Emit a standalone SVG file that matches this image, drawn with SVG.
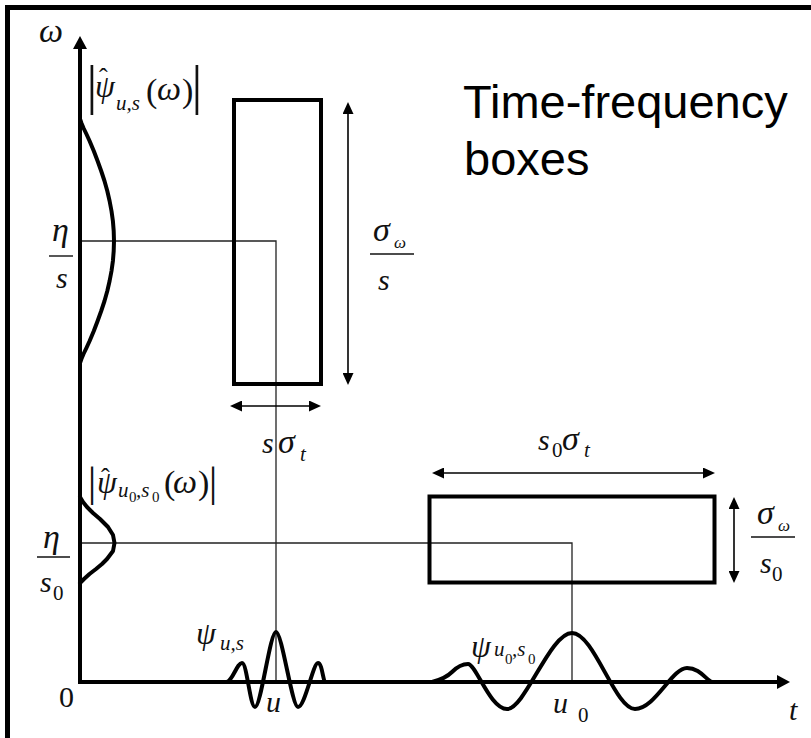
<svg xmlns="http://www.w3.org/2000/svg" width="811" height="738" viewBox="0 0 811 738">
<style>
  .m { font-family: "Liberation Serif", "Times New Roman", serif; font-style: italic; font-size: 30px; fill: #111; }
  .g { font-size: 34px; }
  .p { font-size: 32px; }
  .r { font-style: normal; }
  .sub { font-size: 21px; }
  .sg { font-size: 17px; }
  .ss { font-size: 15px; font-style: normal; }
  .thick { fill: none; stroke: #000; stroke-width: 4; stroke-linejoin: round; stroke-linecap: round; }
  .box { fill: none; stroke: #000; stroke-width: 4; }
  .thin { fill: none; stroke: #222; stroke-width: 1.3; }
  .arr { fill: none; stroke: #000; stroke-width: 1.6; marker-start: url(#ah); marker-end: url(#ah); }
  .fbar { stroke: #111; stroke-width: 1.4; }
  .title { font-family: "Liberation Sans", Arial, sans-serif; font-size: 47px; fill: #000; }
</style>
<defs>
  <marker id="ah" markerUnits="userSpaceOnUse" markerWidth="12" markerHeight="11" refX="0" refY="5.5" orient="auto-start-reverse">
    <path d="M0,0 L12,5.5 L0,11 z" fill="#000"/>
  </marker>
  <marker id="axh" markerUnits="userSpaceOnUse" markerWidth="13" markerHeight="14" refX="0" refY="7" orient="auto-start-reverse">
    <path d="M0,0 L13,7 L0,14 z" fill="#000"/>
  </marker>
</defs>
<rect width="811" height="738" fill="#fff"/>

<g id="frame">
  <path d="M7.5,738 V7.5 H811" fill="none" stroke="#000" stroke-width="5"/>
</g>

<g id="connectors">
  <polyline class="thin" points="80,241 276,241 276,682"/>
  <polyline class="thin" points="80,543 572,543 572,682"/>
  <line class="arr" x1="348" y1="114" x2="348" y2="373"/>
  <line class="arr" x1="242" y1="406" x2="309" y2="406"/>
  <line class="arr" x1="444" y1="473" x2="703" y2="473"/>
  <line class="arr" x1="734" y1="509" x2="734" y2="571"/>
</g>

<g id="axes">
  <path d="M80,49 L80,682 L777,682" fill="none" stroke="#000" stroke-width="4" stroke-linejoin="miter" marker-start="url(#axh)" marker-end="url(#axh)"/>
</g>

<g id="box-us">
  <rect class="box" x="234" y="100" width="87" height="284"/>
</g>
<g id="box-u0s0">
  <rect class="box" x="429.5" y="496.5" width="285" height="86"/>
</g>

<g id="spectrum-us">
  <polyline class="thick" points="80,119 81.4,123 83.5,128 86.4,134 89.6,141 93.8,151 97.6,161 101.2,171 104.5,181 107.3,191 109.6,201 111.5,211 112.9,221 113.7,231 114,241 113.7,251 112.9,261 111.5,271 109.6,281 107.3,291 104.5,301 101.2,311 97.6,321 93.8,331 89.6,341 86.4,348 83.5,354 81.4,359 80,363"/>
</g>
<g id="spectrum-u0s0">
  <polyline class="thick" points="80,497 83,502 87,507 93,513 100,519 108,527 113,535 114.5,543 113,551 107,559 102,564 96,569 89.5,574 84,579 80,583"/>
</g>

<g id="wavelet-us">
  <path class="thick" d="M227,682 C233,680 237,663 242,663 C247,663 250,707 255,707 C261,707 270,632 276,632 C282,632 292,707 298,707 C305,707 313,663 318,663 C322,663 323,680 325,682"/>
</g>
<g id="wavelet-u0s0">
  <path class="thick" d="M432,682 C440,680 447,677 452,672 C458,666 463,664 468,664 C476,664 490,709 507,709 C525,709 550,633 572,633 C594,633 615,709 635,709 C655,709 672,668 687,668 C700,668 706,680 712,682"/>
</g>

<g id="labels">
  <text class="m g" x="39" y="42">ω</text>

  <text class="m"><tspan class="r" font-size="54" x="86.6" y="103">|</tspan><tspan class="p" x="95" y="97">ψ</tspan><tspan class="r" font-size="26" x="99" y="86">ˆ</tspan><tspan class="sub" x="116" y="110">u,s</tspan><tspan class="r" font-size="34" x="146" y="102">(</tspan><tspan class="g" x="157" y="100">ω</tspan><tspan class="r" font-size="34" x="182" y="102">)</tspan><tspan class="r" font-size="54" x="191.6" y="103">|</tspan></text>

  <text class="m g" x="52" y="241">η</text>
  <line class="fbar" x1="49" y1="256" x2="73" y2="256"/>
  <text class="m" x="56" y="288">s</text>

  <text class="m"><tspan class="g" x="373" y="241">σ</tspan><tspan class="sg" x="394" y="248">ω</tspan></text>
  <line class="fbar" x1="370" y1="254" x2="414" y2="254"/>
  <text class="m" x="378" y="290">s</text>

  <text class="m"><tspan x="262" y="453">s</tspan><tspan class="g" x="278" y="453">σ</tspan><tspan class="sub" x="300" y="461">t</tspan></text>

  <text class="m"><tspan class="r" font-size="43" x="87.7" y="496">|</tspan><tspan class="p" x="97" y="493">ψ</tspan><tspan class="r" font-size="26" x="101" y="486">ˆ</tspan><tspan class="sub" x="118" y="497">u</tspan><tspan class="ss" x="129" y="502">0</tspan><tspan class="sub" x="136" y="497">,s</tspan><tspan class="ss" x="152" y="502">0</tspan><tspan class="r" font-size="34" x="164" y="494">(</tspan><tspan class="g" x="173" y="493">ω</tspan><tspan class="r" font-size="34" x="198" y="494">)</tspan><tspan class="r" font-size="43" x="208.7" y="496">|</tspan></text>

  <text class="m g" x="43" y="548">η</text>
  <line class="fbar" x1="37" y1="557" x2="70" y2="557"/>
  <text class="m"><tspan x="40" y="592">s</tspan><tspan class="sub r" x="53" y="600">0</tspan></text>

  <text class="m"><tspan x="538" y="450">s</tspan><tspan class="sub r" x="552" y="457">0</tspan><tspan class="g" x="562" y="450">σ</tspan><tspan class="sub" x="584" y="457">t</tspan></text>

  <text class="m"><tspan class="g" x="757" y="524">σ</tspan><tspan class="sg" x="778" y="531">ω</tspan></text>
  <line class="fbar" x1="751" y1="537" x2="795" y2="537"/>
  <text class="m"><tspan x="760" y="573">s</tspan><tspan class="sub r" x="772" y="581">0</tspan></text>

  <text class="m"><tspan class="p" x="196" y="644">ψ</tspan><tspan class="sub" x="220" y="650">u,s</tspan></text>
  <text class="m"><tspan class="p" x="471" y="657">ψ</tspan><tspan class="sub" x="494" y="656">u</tspan><tspan class="ss" x="505" y="664">0</tspan><tspan class="sub" x="512" y="656">,s</tspan><tspan class="ss" x="528" y="664">0</tspan></text>

  <text class="m r" x="59" y="707">0</text>
  <text class="m" x="266" y="712">u</text>
  <text class="m"><tspan x="553" y="713">u</tspan><tspan class="sub r" x="578" y="722">0</tspan></text>
  <text class="m" x="789" y="720">t</text>
</g>

<g id="title">
  <text class="title" x="463" y="118">Time-frequency</text>
  <text class="title" x="464" y="175">boxes</text>
</g>
</svg>
